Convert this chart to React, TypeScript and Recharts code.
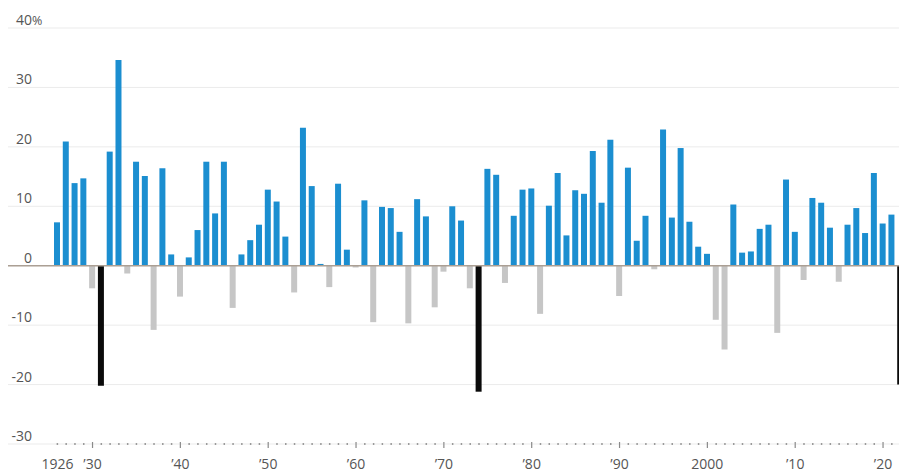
import { Bar, BarChart, CartesianGrid, Cell, ReferenceLine, XAxis, YAxis } from "recharts";

// Annual returns, %, one value per year starting in 1926
const startYear = 1926;
const returns = [
  7.3, 20.9, 13.9, 14.7, -3.8, -20.2, 19.2, 34.6, -1.3, 17.5, // 1926-35
  15.1, -10.8, 16.4, 1.9, -5.2, 1.4, 6.0, 17.5, 8.8, 17.5, // 1936-45
  -7.1, 1.9, 4.3, 6.9, 12.8, 10.8, 4.9, -4.5, 23.2, 13.4, // 1946-55
  0.3, -3.6, 13.8, 2.7, -0.3, 11.0, -9.5, 9.9, 9.7, 5.7, // 1956-65
  -9.7, 11.2, 8.3, -7.0, -1.0, 10.0, 7.6, -3.8, -21.2, 16.3, // 1966-75
  15.3, -2.9, 8.4, 12.8, 13.0, -8.1, 10.1, 15.6, 5.1, 12.7, // 1976-85
  12.1, 19.3, 10.6, 21.2, -5.1, 16.5, 4.2, 8.4, -0.6, 22.9, // 1986-95
  8.1, 19.8, 7.4, 3.2, 2.0, -9.1, -14.1, 10.3, 2.2, 2.4, // 1996-2005
  6.2, 6.9, -11.3, 14.5, 5.7, -2.4, 11.4, 10.6, 6.4, -2.7, // 2006-15
  6.9, 9.7, 5.5, 15.6, 7.1, 8.6, -20.0, // 2016-22
];
const worstYears = [1931, 1974, 2022];
const yTicks = [-30, -20, -10, 0, 10, 20, 30, 40];
const labelYears = [1926, 1930, 1940, 1950, 1960, 1970, 1980, 1990, 2000, 2010, 2020];

const data = returns.map((value, i) => ({ year: startYear + i, value }));

const BLUE = "#1b8ed0";
const GREY = "#c6c6c6";
const BLACK = "#0a0a0a";
const TEXT = "#555";
const FONT = "'Open Sans', sans-serif";

function yearLabel(year: number) {
  if (year === 1926 || year === 2000) return String(year);
  return `\u2019${String(year).slice(2)}`;
}

function YearTick({ x, y, payload }: any) {
  const year = Number(payload.value);
  const decade = year % 10 === 0;
  return (
    <g>
      {decade ? (
        <line x1={x} x2={x} y1={y - 2} y2={y + 4} stroke="#8a8a8a" strokeWidth={1.2} />
      ) : (
        <rect x={x - 0.75} y={y - 1} width={1.5} height={2} fill="#9a9a9a" />
      )}
      {labelYears.includes(year) && (
        <text x={x} y={y + 25} textAnchor="middle" fill={TEXT} fontSize={14} fontFamily={FONT}>
          {yearLabel(year)}
        </text>
      )}
    </g>
  );
}

function ValueTick({ y, payload }: any) {
  const v = Number(payload.value);
  return (
    <g>
      <text x={32} y={y - 3} textAnchor="end" fill={TEXT} fontSize={14} fontFamily={FONT}>
        {v}
      </text>
      {v === 40 && (
        <text x={32} y={y - 3} textAnchor="start" fill={TEXT} fontSize={12.5} fontFamily={FONT}>
          %
        </text>
      )}
    </g>
  );
}

export default function App() {
  return (
    <div
      style={{
        position: "absolute",
        left: 0,
        top: 0,
        width: 899,
        height: 472,
        overflow: "hidden",
        background: "#fff",
      }}
    >
      <BarChart
        width={905}
        height={472}
        data={data}
        barSize={6}
        margin={{ top: 28, right: 0, left: 0, bottom: 0 }}
      >
        <CartesianGrid
          vertical={false}
          horizontal={(p: any) => (
            <line key={p.key} x1={8} x2={p.x2} y1={p.y1} y2={p.y2} stroke="#ebebeb" strokeWidth={1} />
          )}
        />
        <XAxis
          dataKey="year"
          interval={0}
          axisLine={false}
          tickLine={false}
          tickSize={0}
          tickMargin={0}
          height={28}
          tick={<YearTick />}
        />
        <YAxis
          domain={[-30, 40]}
          ticks={yTicks}
          axisLine={false}
          tickLine={false}
          width={53}
          tick={<ValueTick />}
        />
        <Bar dataKey="value" isAnimationActive={false}>
          {data.map((d) => (
            <Cell
              key={d.year}
              fill={worstYears.includes(d.year) ? BLACK : d.value >= 0 ? BLUE : GREY}
            />
          ))}
        </Bar>
        <ReferenceLine
          y={0}
          shape={(p: any) => (
            <line x1={8} x2={p.x2} y1={p.y1} y2={p.y2} stroke="#ab9f94" strokeWidth={1.5} />
          )}
        />
      </BarChart>
    </div>
  );
}
